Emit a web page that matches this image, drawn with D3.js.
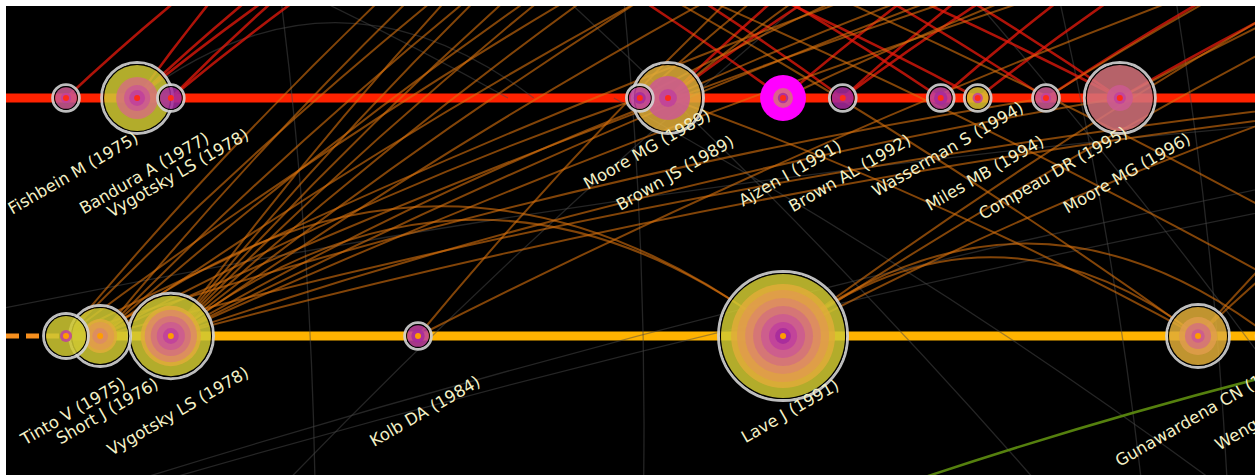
<!DOCTYPE html>
<html><head><meta charset="utf-8">
<script src="https://cdn.jsdelivr.net/npm/d3@7"></script>
<style>html,body{margin:0;padding:0;background:#fff;overflow:hidden}</style>
</head><body><svg id="c" width="1255" height="475"></svg>
<script>
// ---------- DATA ----------
const authors = ["Fishbein M","Bandura A","Vygotsky LS","Moore MG","Brown JS","Ajzen I","Brown AL","Wasserman S","Miles MB","Compeau DR","Moore MG",
                 "Tinto V","Short J","Vygotsky LS","Kolb DA","Lave J","Gunawardena CN","Wenger E"];
const pubYears = [1975,1977,1978,1989,1989,1991,1992,1994,1994,1995,1996,
                  1975,1976,1978,1984,1991,1997,1998];
// position of each node along the timeline (fractional year)
const timePos = [1975.00,1977.25,1978.22,1988.47,1988.97,1990.93,1991.90,1993.43,1993.99,1995.00,1996.06,
                 1975.00,1976.12,1978.22,1984.17,1990.93,1997.15,1998.12];
const clusterRow = [0,0,0,0,0,0,0,0,0,0,0, 1,1,1,1,1,1,1];
// citations per time slice (tree rings, inner = earliest)
const ringCounts = [
  [0,0,3,10,0,0,0,0,0,0],
  [0,0,7,12,30,0,0,0,0,72],
  [0,13,0,0,0,0,0,0,0,0],
  [0,4,9,0,0,0,0,0,0,0],
  [0,0,9,45,0,0,0,67,0,0],
  [0,3,0,0,8,0,0,0,0,0],
  [0,13,0,0,0,0,0,0,0,0],
  [0,5,8,0,0,0,0,0,0,0],
  [0,0,3,0,0,0,0,0,10,0],
  [0,0,3,10,0,0,0,0,0,0],
  [0,0,4,15,102,0,0,0,0,0],
  [0,0,4,0,0,0,0,0,0,40],
  [0,0,0,0,0,7,15,10,0,55],
  [0,0,7,15,23,31,0,25,0,78],
  [0,5,8,0,0,0,0,0,0,0],
  [0,7,15,32,46,60,75,65,0,127],
  [0,0,0,5,14,0,21,53,0,0],
  [0,0,0,0,0,0,0,0,0,13]
];
const centrality = [0,0,0,0,0,0.30,0,0,0,0,0, 0,0,0,0,0,0,0];
const rowStart = [1965, 1975];
const epoch = 1960;
// links: [fromTime, fromRow, toTime, toRow, yearOfLink]
const links = [
  [1978.22,1,1987.4,-1,2003],[1978.22,1,1988.2,-1,2003],[1978.22,1,1989.0,-1,2003],[1978.22,1,1989.9,-1,2003],
  [1978.22,1,1991.0,-1,2003],[1978.22,1,1992.4,-1,2003],[1978.22,1,1994.0,-1,2003],
  [1976.12,1,1987.0,-1,2003],[1976.12,1,1988.6,-1,2003],[1976.12,1,1990.2,-1,2003],[1976.12,1,1993.0,-1,2003],
  [1975.00,1,1986.5,-1,2003],[1975.00,1,1988.0,-1,2003],[1975.00,1,1991.5,-1,2003],
  [1978.22,1,1999.0,-1,2003],[1978.22,1,2001.0,-1,2003],[1976.12,1,2000.0,-1,2003],[1984.17,1,2002.0,-1,2003],
  [1975.00,1,1998.0,-1,2003],
  [1978.22,1,1988.97,0,2003],[1976.12,1,1988.47,0,2003],[1978.22,1,1996.06,0,2003],[1975.00,1,1995.00,0,2003],
  [1978.22,1,2000.5,0,2003],[1976.12,1,1999.5,0,2003],
  [1978.22,1,1990.93,1,2003],[1976.12,1,1990.93,1,2003],
  [1990.93,1,1997.15,1,2003],[1990.93,1,1998.12,1,2003],
  [1984.17,1,1992.5,-1,2003],
  [1990.93,1,2001.7,-1,2003],[1990.93,1,2003.0,-1,2003],[1990.93,1,1999.0,0,2003],
  [1988.97,0,1997.15,1,2003],[1984.0,-1,1997.15,1,2003],
  [1997.15,1,2003.5,-1,2003],[1997.15,1,2001.0,0,2003],
  [1988.97,0,1994.5,-1,2003],[1988.47,0,1993.5,-1,2003],[1996.06,0,2003.0,-1,2003],[1995.00,0,2001.0,-1,2003],
  [1988.97,0,1999.0,-1,2003],[1990.93,0,2000.0,-1,2003],[1988.47,0,1997.0,-1,2003],
  [1986.0,-1,2001.0,1,2003],[1983.0,-1,1999.5,1,2003],
  [1975.00,0,1983.0,-1,2001],[1977.25,0,1982.4,-1,2001],[1977.25,0,1984.5,-1,2001],[1978.22,0,1984.8,-1,2001],
  [1977.25,0,1985.5,-1,2001],[1978.22,0,1986.0,-1,2001],
  [1988.97,0,1993.6,-1,2001],[1990.93,0,1995.9,-1,2001],[1983.8,-1,1990.93,0,2001],
  [1988.97,0,1995.0,-1,2001],[1991.90,0,1996.5,-1,2001],[1984.5,-1,1993.99,0,2001],[1987.0,-1,1996.06,0,2001],
  [1993.43,0,1998.0,-1,2001],[1993.99,0,1999.0,-1,2001],[1995.00,0,2000.8,-1,2001],[1996.06,0,2002.5,-1,2001],
  [1986.2,-1,1993.43,0,2001],[1989.7,-1,1996.06,0,2001],[1985.0,-1,1991.90,0,2001],[1988.0,-1,1995.00,0,2001],
  [1991.90,0,1997.5,-1,2001],
  [1980.6,-1,1981.9,2,1999],[1987.9,-1,1988.5,2,1999],[1994.7,-1,1996.5,2,1999],[1996.5,-1,1997.6,2,1999],
  [1984.0,-1,1996.0,2,1999],[1988.0,0,1999.0,2,1999],[1961.0,2,2004.0,0,1999],[1963.0,2,2006.0,0,1999],
  [1965.0,1,2003.0,0,1999],[1977.25,0,1986.5,0,1999],[1972.0,-1,1986.0,0,1999],[1992.0,-1,2000.0,2,1999],
  [1979.0,2,1994.0,-1,1999],
  [1988.8,2,2000.3,1,2007]
];

// ---------- SCALES ----------
const W = 1255, H = 475;
const svg = d3.select("#c");
const xs = d3.scalePow().exponent(2).domain([0, 40]).range([-154.5, 1413.5]);
const X = t => xs(t - epoch);
const rowY = d3.scaleLinear().domain([0, 1]).range([98, 336]);
const rScale = d3.scaleSqrt().domain([0, 100]).range([0, 30]);
const ringColor = d3.scaleOrdinal().domain(d3.range(10))
  .range(["#7a1a9a","#a52a9c","#c0409c","#cc5a90","#d4727a","#dc8a64","#e09c4c","#e0ac38","#dcc030","#cfc832"]);
const rowColor = d3.scaleOrdinal().domain([0,1]).range(["#ff2200","#ffb300"]);
const dotColor = d3.scaleOrdinal().domain([0,1]).range(["#ff2a1a","#ff9d00"]);
const dashColor = d3.scaleOrdinal().domain([0,1]).range(["#ff4a20","#f7901e"]);
const centralityW = d3.scaleLinear().domain([0, 0.3]).range([0, 13]);
const linkColor = d3.scaleThreshold().domain([2001,2002,2006]).range(["#4a4a4a","#e81a0c","#d8720e","#5e8e10"]);
const linkOpacity = d3.scaleThreshold().domain([2001,2002,2006]).range([0.5,0.75,0.6,0.9]);
const linkWidth = d3.scaleThreshold().domain([2001,2002,2006]).range([1.3,2.6,2,2.5]);

// ---------- BACKGROUND ----------
const padL = 6, padT = 6;
svg.append("defs").append("clipPath").attr("id","clip")
  .append("rect").attr("x",padL).attr("y",padT).attr("width",W-padL).attr("height",H-padT);
svg.append("rect").attr("x",padL).attr("y",padT).attr("width",W-padL).attr("height",H-padT).attr("fill","#000");
const g = svg.append("g").attr("clip-path","url(#clip)");

// ---------- TIMELINES ----------
[0,1].forEach(r => {
  const xs0 = X(rowStart[r]);
  if (xs0 > padL) {
    g.append("line").attr("x1",padL).attr("x2",xs0).attr("y1",rowY(r)).attr("y2",rowY(r))
      .attr("stroke",dashColor(r)).attr("stroke-width",5).attr("stroke-dasharray","13,7");
  }
  g.append("line").attr("x1",Math.max(padL,xs0)).attr("x2",W).attr("y1",rowY(r)).attr("y2",rowY(r))
    .attr("stroke",rowColor(r)).attr("stroke-width",9);
});

// ---------- LINKS ----------
function linkPath(l){
  const x1=X(l[0]), y1=rowY(l[1]), x2=X(l[2]), y2=rowY(l[3]);
  const dx=x2-x1, dy=y2-y1, len=Math.hypot(dx,dy);
  const b = l[1]===l[3] ? 0.38 : 0.04;
  let nx=-dy/len, ny=dx/len; if(ny>0){nx=-nx;ny=-ny;}
  const cx=(x1+x2)/2+nx*b*len, cy=(y1+y2)/2+ny*b*len;
  return `M${x1},${y1}Q${cx},${cy} ${x2},${y2}`;
}
const sortedLinks = links.slice().sort((a,b)=>a[4]-b[4]);
g.append("g").selectAll("path").data(sortedLinks).join("path")
  .attr("d", linkPath).attr("fill","none")
  .attr("stroke", d=>linkColor(d[4])).attr("stroke-opacity", d=>linkOpacity(d[4]))
  .attr("stroke-width", d=>linkWidth(d[4]));

// ---------- NODES ----------
const nodes = authors.map((a,i)=>{
  const cum = d3.cumsum(ringCounts[i]);
  return {name:a, year:pubYears[i], t:timePos[i], row:clusterRow[i], counts:ringCounts[i], cum, c:centrality[i],
          total:cum[cum.length-1]};
});
const drawOrder = nodes.slice().sort((a,b)=>b.total-a.total);
const ng = g.append("g").selectAll("g").data(drawOrder).join("g")
  .attr("transform", d=>`translate(${X(d.t)},${rowY(d.row)})`);
ng.each(function(d){
  const s = d3.select(this);
  const R = rScale(d.total);
  if (d.c > 0) {
    s.append("circle").attr("r", R + centralityW(d.c)).attr("fill","#ff00ff");
  } else {
    s.append("circle").attr("r", R + 2.5).attr("fill","none").attr("stroke","#d2d2d2").attr("stroke-width",3).attr("stroke-opacity",0.9);
    s.append("circle").attr("r", R + 0.5).attr("fill","none").attr("stroke","#000").attr("stroke-width",1.2);
  }
  const rings = d.counts.map((c,k)=>({k, c, r:rScale(d.cum[k])})).filter(o=>o.c>0).reverse();
  s.selectAll("circle.ring").data(rings).join("circle").attr("class","ring")
    .attr("r", o=>o.r).attr("fill", o=>ringColor(o.k)).attr("fill-opacity",0.86);
  s.append("circle").attr("r",3).attr("fill",dotColor(d.row));
});

// ---------- LABELS ----------
nodes.forEach((d,i)=>{
  const nxt = nodes[i+1];
  d.lift = (nxt && nxt.row===d.row && nxt.year===d.year && Math.abs(nxt.t-d.t)<1) ? -24 : 0;
});
svg.append("g").selectAll("text").data(nodes).join("text")
  .attr("transform", d=>`translate(${X(d.t)+7},${rowY(d.row)+75+d.lift}) rotate(-30)`)
  .attr("text-anchor","middle").attr("dy","0.35em")
  .attr("font-family","'DejaVu Sans', Verdana, sans-serif").attr("font-size",16.5)
  .attr("fill","#f4f0c6")
  .text(d=>`${d.name} (${d.year})`);
svg.append("rect").attr("x",0).attr("y",0).attr("width",W).attr("height",padT).attr("fill","#fff");
svg.append("rect").attr("x",0).attr("y",0).attr("width",padL).attr("height",H).attr("fill","#fff");
</script></body></html>
